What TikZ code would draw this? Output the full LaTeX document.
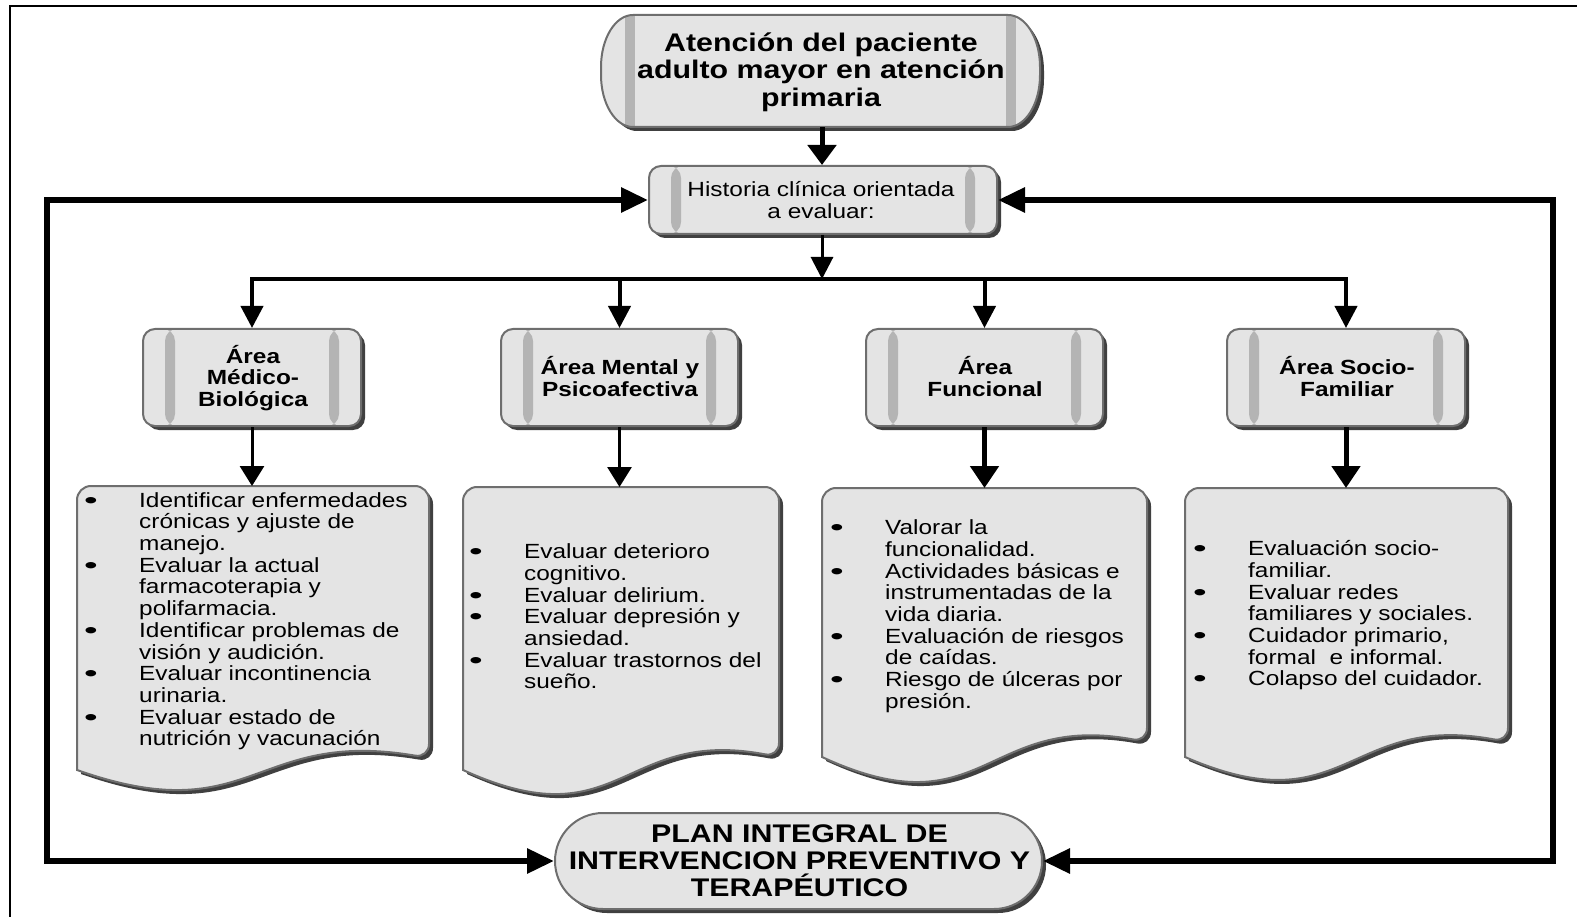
\documentclass[tikz,border=0pt]{standalone}
\usepackage{fontspec}
\usepackage{graphicx}
\setmainfont{Liberation Sans}
\newfontfamily\dfont[FakeStretch=1.19]{Liberation Sans}
\usetikzlibrary{arrows.meta,shadows}

\definecolor{boxfill}{HTML}{E4E4E4}
\definecolor{boxline}{HTML}{6E6E6E}
\definecolor{boxshadow}{HTML}{404040}
\definecolor{barcol}{HTML}{B4B4B4}

\newcommand\ftitle{\dfont\bfseries\fontsize{25.5}{27.2}\selectfont\lineskiplimit=-\maxdimen}
\newcommand\fbody{\dfont\fontsize{20.5}{21.7}\selectfont\lineskiplimit=-\maxdimen}
\newcommand\farea{\dfont\bfseries\fontsize{20.5}{21.6}\selectfont\lineskiplimit=-\maxdimen}
\newcommand\fhist{\dfont\fontsize{20.5}{22}\selectfont\lineskiplimit=-\maxdimen}
\newcommand\bi{\llap{\raisebox{-1pt}{\scalebox{1.6}[1.15]{\textbullet}}\hspace{41.5pt}}\strut}
\newcommand\li{\strut}

\newcommand\docshape[7]{%
  \fill[boxshadow, shift={(4,4)}] (#2,#5) [rounded corners=14pt] -- (#2,#3) -- (#4,#3) -- (#4,#6) [sharp corners] .. controls ({(#2+#4)/2},{#6-30}) and ({(#2+#4)/2},{#5+#7}) .. (#2,#5) -- cycle;
  \filldraw[fill=boxfill, draw=boxline, line width=2pt] (#2,#5) [rounded corners=14pt] -- (#2,#3) -- (#4,#3) -- (#4,#6) [sharp corners] .. controls ({(#2+#4)/2},{#6-30}) and ({(#2+#4)/2},{#5+#7}) .. (#2,#5) -- cycle;
  \coordinate (#1) at ({(#2+#4)/2},#3);
}

% pill with elliptical ends: options, x1, y1, x2, y2, rx, ry
\newcommand\pillpath[7]{\path[#1] ({#2+#6},#3) -- ({#4-#6},#3) .. controls ({#4-0.4477*#6},#3) and (#4,{#3+0.4477*#7}) .. (#4,{#3+#7}) -- (#4,{#5-#7}) .. controls (#4,{#5-0.4477*#7}) and ({#4-0.4477*#6},#5) .. ({#4-#6},#5) -- ({#2+#6},#5) .. controls ({#2+0.4477*#6},#5) and (#2,{#5-0.4477*#7}) .. (#2,{#5-#7}) -- (#2,{#3+#7}) .. controls (#2,{#3+0.4477*#7}) and ({#2+0.4477*#6},#3) .. ({#2+#6},#3) -- cycle;}

\tikzset{
  basebox/.style={fill=boxfill, draw=boxline, line width=2pt, inner sep=0,
    drop shadow={shadow xshift=4pt, shadow yshift=-4pt, fill=boxshadow, opacity=1}},
  barbox/.style={basebox, path picture={
    \fill[barcol] ([xshift=22pt]path picture bounding box.south west) rectangle ([xshift=32pt]path picture bounding box.north west);
    \fill[barcol] ([xshift=-32pt]path picture bounding box.south east) rectangle ([xshift=-22pt]path picture bounding box.north east);}},
  txt/.style={inner sep=0, align=center, anchor=north},
  dtxt/.style={inner sep=0, align=left, anchor=north west, font=\fbody},
  arr/.style={line width=4pt, -{Triangle[length=22pt,width=22pt]}},
  arrthin/.style={line width=3pt, -{Triangle[length=20pt,width=24pt]}},
  arrthick/.style={line width=5pt, -{Triangle[length=22pt,width=28pt]}},
  loopline/.style={line width=6pt, {Triangle[length=27pt,width=24pt]}-{Triangle[length=27pt,width=24pt]}},
}

\begin{document}
\begin{tikzpicture}[x=1pt,y=-1pt, line join=miter]
\useasboundingbox (0,0) rectangle (1577,917);
\draw[line width=1.3pt] (10,917) -- (10,6) -- (1577,6);

% top (pill with elliptical ends)
\pillpath{fill=boxshadow, shift={(4,4)}}{601}{15}{1040}{127}{32}{52}
\pillpath{fill=boxfill}{601}{15}{1040}{127}{32}{52}
\begin{scope}
  \pillpath{clip}{601}{15}{1040}{127}{32}{52}
  \fill[barcol] (625,0) rectangle (635,200);
  \fill[barcol] (1006,0) rectangle (1016,200);
\end{scope}
\pillpath{draw=boxline, line width=2pt}{601}{15}{1040}{127}{32}{52}
\node[inner sep=0, minimum width=439pt, minimum height=112pt] (top) at (822,71) {};
\node[txt, font=\ftitle] (toptxt) at (821,32.4) {\li\smash{Atención del paciente}\\\li adulto mayor en atención\\\li primaria};

% history
\node[barbox, rounded corners=12pt, minimum width=348pt, minimum height=68pt] (hist) at (823,200) {};
\node[txt, font=\fhist] (histtxt) at (821,181.1) {\li Historia clínica orientada\\\li a evaluar:};

% areas
\node[barbox, rounded corners=12pt, minimum width=218pt, minimum height=97pt] (a1) at (252,377.5) {};
\node[barbox, rounded corners=12pt, minimum width=237pt, minimum height=97pt] (a2) at (619.5,377.5) {};
\node[barbox, rounded corners=12pt, minimum width=237pt, minimum height=97pt] (a3) at (984.5,377.5) {};
\node[barbox, rounded corners=12pt, minimum width=238pt, minimum height=97pt] (a4) at (1346,377.5) {};
\node[txt, font=\farea] (a1txt) at (253,347.9) {\li\smash{Área}\\\li Médico-\\\li Biológica};
\node[txt, font=\farea] (a2txt) at (620,359.4) {\li\smash{Área Mental y}\\\li Psicoafectiva};
\node[txt, font=\farea] (a3txt) at (985,359.4) {\li\smash{Área}\\\li Funcional};
\node[txt, font=\farea] (a4txt) at (1347,359.4) {\li\smash{Área Socio-}\\\li Familiar};

% plan
\node[basebox, rounded corners=48pt, minimum width=487pt, minimum height=96pt] (plan) at (798.5,861) {};
\node[txt, font=\ftitle] (plantxt) at (799.5,823) {\li PLAN INTEGRAL DE\\\li INTERVENCION PREVENTIVO Y\\\li TERAPÉUTICO};

% documents
\docshape{d1}{77}{486}{429}{770}{758}{62}
\docshape{d2}{463}{487}{779}{770}{757}{72}
\docshape{d3}{822}{488}{1147}{757}{742}{75}
\docshape{d4}{1185}{488}{1508}{757}{742}{70}

\node[dtxt] (t1) at (139,491.8) {\bi Identificar enfermedades\\\li crónicas y ajuste de\\\li manejo.\\\bi Evaluar la actual\\\li farmacoterapia y\\\li polifarmacia.\\\bi Identificar problemas de\\\li visión y audición.\\\bi Evaluar incontinencia\\\li urinaria.\\\bi Evaluar estado de\\\li nutrición y vacunación};
\node[dtxt] (t2) at (524,543.3) {\bi Evaluar deterioro\\\li cognitivo.\\\bi Evaluar delirium.\\\bi Evaluar depresión y\\\li ansiedad.\\\bi Evaluar trastornos del\\\li sueño.};
\node[dtxt] (t3) at (885,519.3) {\bi Valorar la\\\li funcionalidad.\\\bi Actividades básicas e\\\li instrumentadas de la\\\li vida diaria.\\\bi Evaluación de riesgos\\\li de caídas.\\\bi Riesgo de úlceras por\\\li presión.};
\node[dtxt] (t4) at (1248,540.3) {\bi Evaluación socio-\\\li familiar.\\\bi Evaluar redes\\\li familiares y sociales.\\\bi Cuidador primario,\\\li formal\ \ e informal.\\\bi Colapso del cuidador.};

% connectors
\draw[line width=5pt, -{Triangle[length=20pt,width=28pt]}] (top.south) -- (top.south |- hist.north);
\coordinate (bus) at (822,279);
\draw[line width=3pt, -{Triangle[length=22pt,width=22pt]}] (hist.south -| bus) -- (bus);
\draw[line width=4pt, line cap=rect] (a1.north |- bus) -- (a4.north |- bus);
\foreach \a in {a1,a2,a3,a4} \draw[arr] (\a.north |- bus) -- (\a.north);
\draw[arrthin] (a1.south) -- (a1.south |- d1);
\draw[arrthin] (a2.south) -- (a2.south |- d2);
\draw[arrthick] (a3.south) -- (a3.south |- d3);
\draw[arrthick] (a4.south) -- (a4.south |- d4);

\coordinate (L) at (46.5,0);
\coordinate (R) at (1553,0);
\draw[loopline] (hist.west) -- (L |- hist.west) -- (L |- plan.west) -- (plan.west);
\draw[loopline] (hist.east) -- (R |- hist.east) -- (R |- plan.east) -- (plan.east);
\end{tikzpicture}
\end{document}
